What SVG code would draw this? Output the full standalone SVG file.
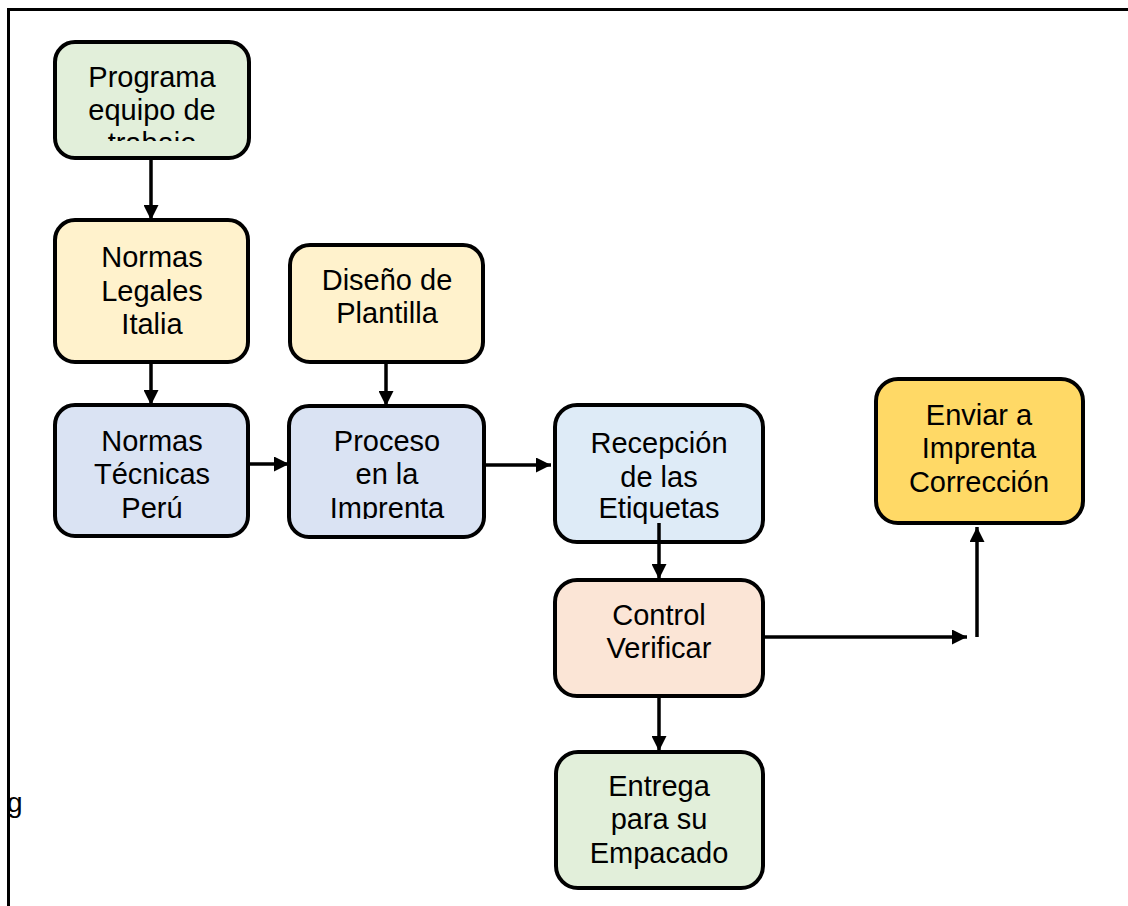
<svg xmlns="http://www.w3.org/2000/svg" width="1128" height="906" viewBox="0 0 1128 906">
<style>
.box{stroke:#000;stroke-width:4}
.t{font-family:"Liberation Sans",Arial,sans-serif;font-size:29px;fill:#000;text-anchor:middle}
.g1{fill:#E2EFDA}.y1{fill:#FFF2CC}.b1{fill:#DAE3F3}.b2{fill:#DEEBF7}.o1{fill:#FBE5D6}.y2{fill:#FFD966}
.c{stroke:#000;stroke-width:3.5;fill:none}
</style>
<defs>
<marker id="ah" viewBox="0 0 10 10" refX="10" refY="5" markerWidth="15" markerHeight="15" markerUnits="userSpaceOnUse" orient="auto">
<path d="M0,0 L10,5 L0,10 z" fill="#000"/>
</marker>
<clipPath id="cp1"><rect x="55" y="42" width="194" height="99"/></clipPath>
<clipPath id="cp4"><rect x="55" y="405" width="193" height="114"/></clipPath>
<clipPath id="cp5"><rect x="289" y="406" width="195" height="113"/></clipPath>
</defs>
<rect width="1128" height="906" fill="#fff"/>
<g id="frame">
<path d="M8.5,906 V9.5 H1128" stroke="#000" stroke-width="3" fill="none"/>
<text x="7" y="812" style="font-family:'Liberation Sans',Arial,sans-serif;font-size:28px">g</text>
</g>
<g id="connectors">
<line class="c" x1="151" y1="158" x2="151" y2="220" marker-end="url(#ah)"/>
<line class="c" x1="151" y1="362" x2="151" y2="405" marker-end="url(#ah)"/>
<line class="c" x1="386" y1="362" x2="386" y2="406" marker-end="url(#ah)"/>
<line class="c" x1="248" y1="464" x2="289" y2="464" marker-end="url(#ah)"/>
<line class="c" x1="484" y1="465" x2="551" y2="465" marker-end="url(#ah)"/>
<line class="c" x1="659" y1="697" x2="659" y2="751" marker-end="url(#ah)"/>
<line class="c" x1="764" y1="637" x2="967" y2="637" marker-end="url(#ah)"/>
<line class="c" x1="977" y1="637" x2="977" y2="527" marker-end="url(#ah)"/>
</g>
<g id="n1">
<rect class="box g1" x="55" y="42" width="194" height="116" rx="20"/>
<g clip-path="url(#cp1)">
<text class="t" x="152" y="87">Programa</text>
<text class="t" x="152" y="120">equipo de</text>
<text class="t" x="152" y="153">trabajo</text>
</g>
</g>
<g id="n2">
<rect class="box y1" x="55" y="220" width="193" height="142" rx="20"/>
<text class="t" x="152" y="267">Normas</text>
<text class="t" x="152" y="301">Legales</text>
<text class="t" x="152" y="334">Italia</text>
</g>
<g id="n3">
<rect class="box y1" x="290" y="245" width="193" height="117" rx="20"/>
<text class="t" x="387" y="290">Diseño de</text>
<text class="t" x="387" y="323">Plantilla</text>
</g>
<g id="n4">
<rect class="box b1" x="55" y="405" width="193" height="131" rx="20"/>
<g clip-path="url(#cp4)">
<text class="t" x="152" y="451">Normas</text>
<text class="t" x="152" y="484">Técnicas</text>
<text class="t" x="152" y="518">Perú</text>
</g>
</g>
<g id="n5">
<rect class="box b1" x="289" y="406" width="195" height="131" rx="20"/>
<g clip-path="url(#cp5)">
<text class="t" x="387" y="451">Proceso</text>
<text class="t" x="387" y="484">en la</text>
<text class="t" x="387" y="518">Imprenta</text>
</g>
</g>
<g id="n6">
<rect class="box b2" x="555" y="405" width="208" height="137" rx="22"/>
<text class="t" x="659" y="453">Recepción</text>
<text class="t" x="659" y="487">de las</text>
<text class="t" x="659" y="518">Etiquetas</text>
</g>
<g id="n7">
<rect class="box o1" x="555" y="580" width="208" height="116" rx="22"/>
<text class="t" x="659" y="625">Control</text>
<text class="t" x="659" y="658">Verificar</text>
</g>
<g id="n8">
<rect class="box g1" x="556" y="752" width="207" height="136" rx="22"/>
<text class="t" x="659" y="796">Entrega</text>
<text class="t" x="659" y="829">para su</text>
<text class="t" x="659" y="863">Empacado</text>
</g>
<g id="n9">
<rect class="box y2" x="876" y="379" width="207" height="144" rx="22"/>
<text class="t" x="979" y="425">Enviar a</text>
<text class="t" x="979" y="458">Imprenta</text>
<text class="t" x="979" y="492">Corrección</text>
</g>
<g id="connector-over">
<line class="c" x1="659" y1="523" x2="659" y2="579" marker-end="url(#ah)"/>
</g>
</svg>
